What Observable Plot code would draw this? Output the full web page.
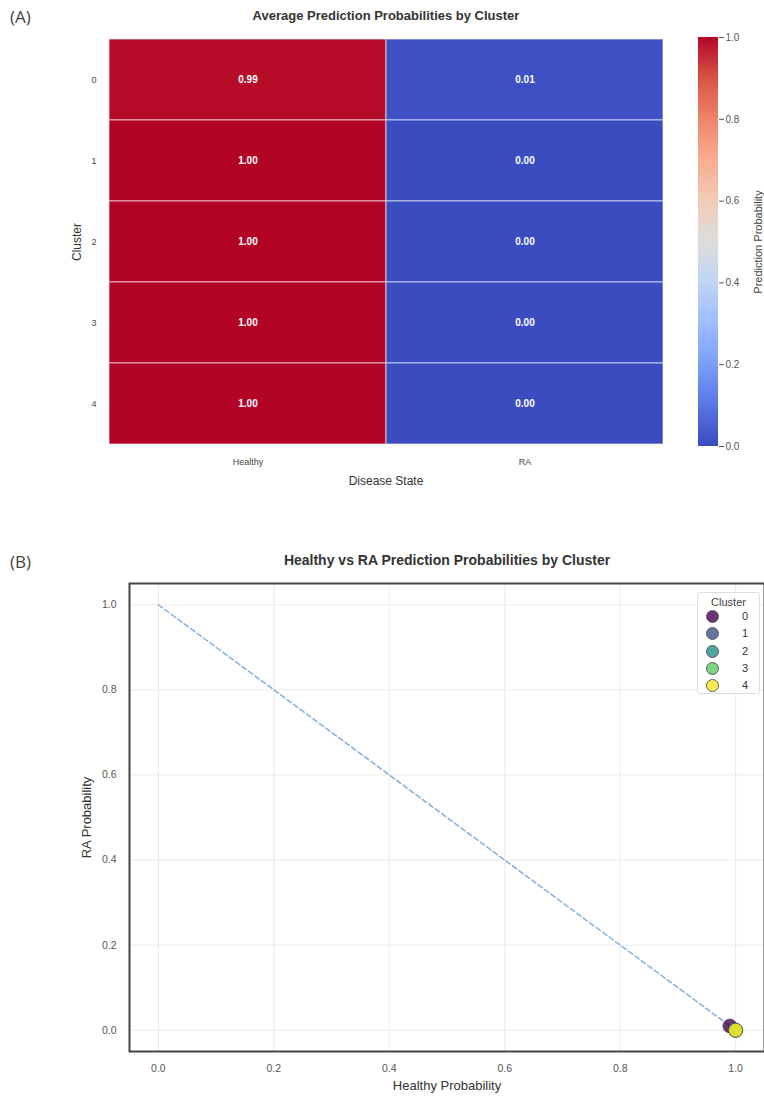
<!DOCTYPE html>
<html>
<head>
<meta charset="utf-8">
<script src="https://cdn.jsdelivr.net/npm/d3@7"></script>
<script src="https://cdn.jsdelivr.net/npm/@observablehq/plot@0.6"></script>
<style>
  body { margin: 0; background: #fff; font-family: "Liberation Sans", Arial, sans-serif; }
  #page { position: relative; width: 764px; height: 1100px; overflow: hidden; }
  .panel { position: absolute; font-size: 17px; color: #444; font-family: "Open Sans", "Liberation Sans", sans-serif; }
  .title { position: absolute; font-weight: bold; color: #333; white-space: nowrap; transform: translateX(-50%); }
  #legend { position: absolute; left: 697px; top: 592px; width: 63px; height: 102px; border: 1px solid #ddd; border-radius: 3px; background: rgba(255,255,255,0.9); font-size: 11px; color: #333; box-sizing: border-box; }
  #legend .lt { text-align: center; margin-top: 3px; font-size: 11px; color: #444; }
  #legend .row { position: relative; height: 17.3px; }
  #legend .dot { position: absolute; left: 8px; top: 2px; width: 13px; height: 13px; border-radius: 50%; opacity: 0.8; box-sizing: border-box; border: 0.6px solid #333; }
  #legend .lab { position: absolute; left: 44px; top: 2px; }
</style>
</head>
<body>
<div id="page"></div>
<script>
// ---------- data ----------
const clusters = ["0", "1", "2", "3", "4"];
const states = ["Healthy", "RA"];
const healthyProb = [0.99, 1.00, 1.00, 1.00, 1.00];
const raProb = [0.01, 0.00, 0.00, 0.00, 0.00];
const colorbarTicks = [0.0, 0.2, 0.4, 0.6, 0.8, 1.0];
const scatterTicks = [0.0, 0.2, 0.4, 0.6, 0.8, 1.0];
const diagX = [0, 1];
const diagY = [1, 0];
const clusterColors = ["#440154", "#3b528b", "#21918c", "#5ec962", "#fde725"];
const coolwarm = ["#3b4cc0", "#5977e3", "#7b9ff9", "#9ebeff", "#c0d4f5", "#dddcdc",
                  "#f2cbb7", "#f7ac8e", "#ee8468", "#d65244", "#b40426"];

const page = document.getElementById("page");
const font = "Liberation Sans, Arial, sans-serif";
const cw = d3.piecewise(d3.interpolateRgb, coolwarm);

function place(el, x, y) { el.style.position = "absolute"; el.style.left = x + "px"; el.style.top = y + "px"; page.appendChild(el); return el; }
function addText(cls, txt, x, y, size) {
  const d = document.createElement("div"); d.className = cls; d.textContent = txt;
  d.style.left = x + "px"; d.style.top = y + "px"; if (size) d.style.fontSize = size + "px";
  page.appendChild(d); return d;
}

// ---------- panel A: heatmap ----------
const cells = clusters.flatMap((c, i) => [
  {cluster: c, state: states[0], value: healthyProb[i]},
  {cluster: c, state: states[1], value: raProb[i]}
]);

const heat = Plot.plot({
  width: 764, height: 500,
  marginLeft: 108, marginRight: 101, marginTop: 37, marginBottom: 54,
  style: {fontFamily: font, background: "transparent"},
  x: {domain: states, padding: 0},
  y: {domain: clusters, padding: 0},
  color: {type: "linear", domain: [0, 1], interpolate: cw},
  marks: [
    Plot.cell(cells, {x: "state", y: "cluster", fill: "value", stroke: "#ffffff", strokeOpacity: 0.55, strokeWidth: 1.2}),
    Plot.text(cells, {x: "state", y: "cluster", text: d => d3.format(".2f")(d.value), fill: "white", fontSize: 10, fontWeight: "bold"}),
    Plot.axisX({tickSize: 0, tickPadding: 12, fontSize: 9, color: "#444", label: null}),
    Plot.axisY({tickSize: 0, tickPadding: 12, fontSize: 9, color: "#444", label: null}),
    Plot.axisX({tickSize: 0, ticks: [], label: "Disease State", labelAnchor: "center", labelOffset: 38, labelArrow: "none", fontSize: 12, color: "#333"}),
    Plot.axisY({tickSize: 0, ticks: [], label: "Cluster", labelAnchor: "center", labelOffset: 36, labelArrow: "none", fontSize: 12, color: "#333"})
  ]
});
place(heat, 0, 0);

// colorbar
const cbSteps = d3.range(0, 1, 0.004);
const cbar = Plot.plot({
  width: 74, height: 500,
  marginLeft: 8, marginRight: 46, marginTop: 37, marginBottom: 54,
  style: {fontFamily: font, background: "transparent"},
  x: {domain: [0, 1], axis: null},
  y: {domain: [0, 1]},
  color: {type: "linear", domain: [0, 1], interpolate: cw},
  marks: [
    Plot.rect(cbSteps, {x1: 0, x2: 1, y1: d => d, y2: d => Math.min(1, d + 0.006), fill: d => d, shapeRendering: "crispEdges"}),
    Plot.axisY({anchor: "right", ticks: colorbarTicks, tickFormat: ".1f", tickSize: 5, tickPadding: 2, fontSize: 10, color: "#555", label: null}),
    Plot.axisY({anchor: "right", ticks: [], label: "Prediction Probability", labelAnchor: "center", labelOffset: 43, labelArrow: "none", fontSize: 11, color: "#444"})
  ]
});
place(cbar, 690, 0);

addText("panel", "(A)", 10, 5);
addText("title", "Average Prediction Probabilities by Cluster", 386, 8, 13);

// ---------- panel B: scatter ----------
const pts = clusters.map((c, i) => ({cluster: c, healthy: healthyProb[i], ra: raProb[i]}));
const diag = diagX.map((x, i) => ({x, y: diagY[i]}));

const scat = Plot.plot({
  width: 764, height: 600,
  marginLeft: 129, marginRight: 0, marginTop: 83, marginBottom: 49,
  style: {fontFamily: font, background: "transparent"},
  x: {domain: [-0.05, 1.05]},
  y: {domain: [-0.05, 1.05]},
  color: {domain: clusters, range: clusterColors},
  marks: [
    Plot.gridX(scatterTicks, {stroke: "#e6e6e6", strokeOpacity: 1, strokeWidth: 0.8}),
    Plot.gridY(scatterTicks, {stroke: "#e6e6e6", strokeOpacity: 1, strokeWidth: 0.8}),
    Plot.line(diag, {x: "x", y: "y", stroke: "#7fb0e0", strokeWidth: 1.5, strokeDasharray: "5,3"}),
    Plot.dot(pts, {x: "healthy", y: "ra", fill: "cluster", fillOpacity: 0.8, stroke: "#333", strokeWidth: 0.6, strokeOpacity: 0.8, r: 7}),
    Plot.frame({stroke: "#444", strokeWidth: 2}),
    Plot.axisX({ticks: scatterTicks, tickFormat: ".1f", tickSize: 0, tickPadding: 13, fontSize: 10.5, color: "#555", label: null}),
    Plot.axisY({ticks: scatterTicks, tickFormat: ".1f", tickSize: 0, tickPadding: 13, fontSize: 10.5, color: "#555", label: null}),
    Plot.axisX({ticks: [], label: "Healthy Probability", labelAnchor: "center", labelOffset: 38, labelArrow: "none", fontSize: 13, color: "#333"}),
    Plot.axisY({ticks: [], label: "RA Probability", labelAnchor: "center", labelOffset: 48, labelArrow: "none", fontSize: 13, color: "#333"})
  ]
});
place(scat, 0, 500);

addText("panel", "(B)", 10, 550);
addText("title", "Healthy vs RA Prediction Probabilities by Cluster", 447, 552, 14);

// legend
const leg = document.createElement("div"); leg.id = "legend";
const lt = document.createElement("div"); lt.className = "lt"; lt.textContent = "Cluster"; leg.appendChild(lt);
clusters.forEach((c, i) => {
  const r = document.createElement("div"); r.className = "row";
  const dot = document.createElement("div"); dot.className = "dot"; dot.style.background = clusterColors[i];
  const lab = document.createElement("div"); lab.className = "lab"; lab.textContent = c;
  r.appendChild(dot); r.appendChild(lab); leg.appendChild(r);
});
page.appendChild(leg);
</script>
</body>
</html>
